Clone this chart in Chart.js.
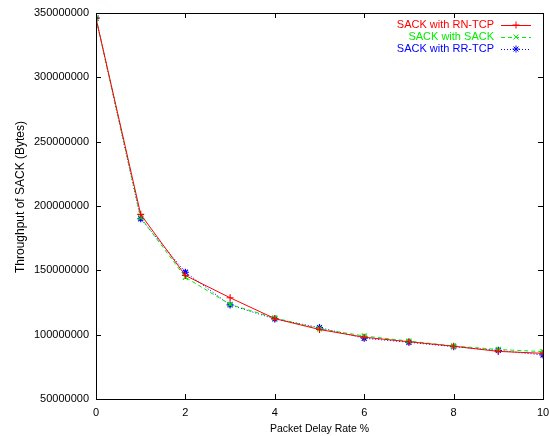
<!DOCTYPE html>
<html lang="en">
<head>
<meta charset="UTF-8">
<title>Throughput of SACK</title>
<script src="https://cdn.jsdelivr.net/npm/chart.js"></script>
<style>
    html, body { margin: 0; padding: 0; background: #fff; }
    #wrap { width: 549px; height: 436px; }
</style>
</head>
<body>
<div id="wrap"><canvas id="c" width="549" height="436"></canvas></div>
<script>
// values
const delayRates = [0, 1, 2, 3, 4, 5, 6, 7, 8, 9, 10];
const rnTcp = [346e6, 193.5e6, 146e6, 128.7e6, 112.5e6, 104e6, 98e6, 94.5e6, 91e6, 87e6, 85.5e6];
const sackSack = [346e6, 191e6, 144.6e6, 123.5e6, 113e6, 104.5e6, 99e6, 95e6, 91.2e6, 88.5e6, 86.8e6];
const rrTcp = [346e6, 190.1e6, 148.5e6, 123.1e6, 112.2e6, 105.5e6, 97.2e6, 94.1e6, 90.7e6, 87.8e6, 84.2e6];
const xTicks = [0, 2, 4, 6, 8, 10];
const yTicks = [50e6, 100e6, 150e6, 200e6, 250e6, 300e6, 350e6];

const FONT = "'Liberation Sans', Arial, sans-serif";
const Y_TITLE = 'Throughput of SACK (Bytes)';

function pts(ys) {
    return delayRates.map((x, i) => ({ x: x, y: ys[i] }));
}

const series = [
    { label: 'SACK with RN-TCP', data: rnTcp, color: '#ff0000', dash: [], style: 'cross' },
    { label: 'SACK with SACK', data: sackSack, color: '#00ee00', dash: [4, 3], style: 'crossRot' },
    { label: 'SACK with RR-TCP', data: rrTcp, color: '#0000ff', dash: [1, 2], style: 'star' }
];

// gnuplot style frame: ticks inward on all four sides, legend with text left of the sample
const frame = {
    id: 'frame',
    afterDraw(chart) {
        const ctx = chart.ctx;
        const a = chart.chartArea;
        const xs = chart.scales.x, ys = chart.scales.y;
        ctx.save();
        ctx.strokeStyle = '#000';
        ctx.lineWidth = 1;
        ctx.strokeRect(a.left + 0.5, a.top + 0.5, a.right - a.left, a.bottom - a.top);
        ctx.beginPath();
        xTicks.forEach(v => {
            const px = Math.round(xs.getPixelForValue(v)) + 0.5;
            ctx.moveTo(px, a.bottom); ctx.lineTo(px, a.bottom - 5);
            ctx.moveTo(px, a.top); ctx.lineTo(px, a.top + 5);
        });
        yTicks.forEach(v => {
            const py = Math.round(ys.getPixelForValue(v)) + 0.5;
            ctx.moveTo(a.left, py); ctx.lineTo(a.left + 5, py);
            ctx.moveTo(a.right, py); ctx.lineTo(a.right - 5, py);
        });
        ctx.stroke();

        // y axis title
        ctx.save();
        ctx.translate(21, 197);
        ctx.rotate(-Math.PI / 2);
        ctx.font = '12px ' + FONT;
        ctx.fillStyle = '#000';
        ctx.textAlign = 'center';
        ctx.textBaseline = 'middle';
        ctx.fillText(Y_TITLE, 0, 0);
        ctx.restore();

        // legend
        ctx.font = '11px ' + FONT;
        ctx.textAlign = 'right';
        ctx.textBaseline = 'middle';
        series.forEach((s, i) => {
            const y = 25 + i * 12;
            ctx.fillStyle = s.color;
            ctx.fillText(s.label, 494, y);
            ctx.strokeStyle = s.color;
            ctx.setLineDash(s.dash);
            ctx.beginPath();
            ctx.moveTo(501, y + 0.5); ctx.lineTo(531, y + 0.5);
            ctx.stroke();
            ctx.setLineDash([]);
            Chart.helpers.drawPoint(ctx, { pointStyle: s.style, radius: 3.5, borderWidth: 1 }, 516, y);
        });
        ctx.restore();
    }
};

new Chart(document.getElementById('c'), {
    type: 'line',
    data: {
        datasets: series.map(s => ({
            label: s.label,
            data: pts(s.data),
            borderColor: s.color,
            backgroundColor: s.color,
            borderWidth: 1,
            borderDash: s.dash,
            pointStyle: s.style,
            pointRadius: 3.5,
            pointBorderWidth: 1.2,
            tension: 0,
            fill: false
        }))
    },
    options: {
        responsive: false,
        animation: false,
        layout: { padding: { top: 13, right: 6, left: 0, bottom: 0 } },
        plugins: { legend: { display: false }, tooltip: { enabled: false } },
        scales: {
            x: {
                type: 'linear',
                min: 0, max: 10,
                afterBuildTicks(s) { s.ticks = xTicks.map(v => ({ value: v })); },
                afterFit(s) { s.height = 37; s.paddingLeft = 0; s.paddingRight = 0; },
                grid: { display: false, drawTicks: false },
                border: { display: false },
                ticks: { color: '#000', padding: 7, font: { family: FONT, size: 11 }, maxRotation: 0 },
                title: { display: true, text: 'Packet Delay Rate %', color: '#000', padding: { top: 0, bottom: 1 }, font: { family: FONT, size: 10.5 } }
            },
            y: {
                min: 50e6, max: 350e6,
                afterBuildTicks(s) { s.ticks = yTicks.map(v => ({ value: v })); },
                afterFit(s) { s.width = 96; s.paddingTop = 0; s.paddingBottom = 0; },
                grid: { display: false, drawTicks: false },
                border: { display: false },
                ticks: { color: '#000', padding: 7, font: { family: FONT, size: 11 }, callback: v => String(v) }
            }
        }
    },
    plugins: [frame]
});
</script>
</body>
</html>
